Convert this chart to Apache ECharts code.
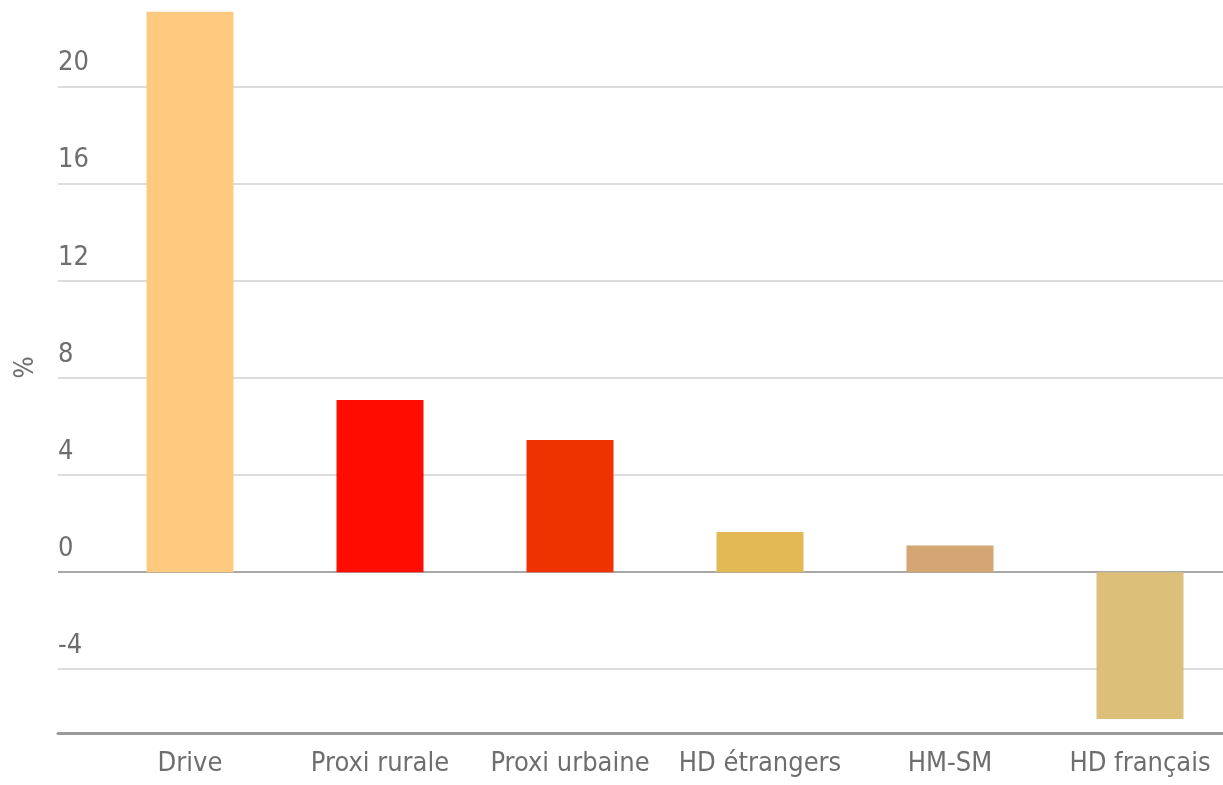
<!DOCTYPE html>
<html>
<head>
<meta charset="utf-8">
<script src="https://cdn.jsdelivr.net/npm/echarts@6/dist/echarts.min.js"></script>
<style>
  html, body { margin: 0; padding: 0; background: #fff; overflow: hidden; }
  #chart { width: 1235px; height: 785px; }
</style>
</head>
<body>
<div id="chart"></div>
<script>
var categories = ["Drive", "Proxi rurale", "Proxi urbaine", "HD étrangers", "HM-SM", "HD français"];
var values = [23.1, 7.1, 5.45, 1.65, 1.1, -6.05];
var barColors = ["#fdca80", "#ff0d00", "#ee3300", "#e2b954", "#d3a673", "#dcc07a"];
var yTicks = [-4, 0, 4, 8, 12, 16, 20];

var yMin = -6.63;
var yMax = 23.5;
var font = '"DejaVu Sans Condensed", "Liberation Sans Narrow", sans-serif';
var textColor = "#6e6e6e";

// zero line darker than the other grid lines
var lineColors = yTicks.map(function (t) {
  return t === 0 ? "#a8a8a8" : "#dcdcdc";
});

var myChart = echarts.init(document.getElementById("chart"));

var option = {
  animation: false,
  grid: [
    { left: 58, right: 12, top: 2, bottom: 52 },
    { left: 95, right: 0, top: 2, bottom: 52 }
  ],
  xAxis: [
    {
      gridIndex: 0,
      type: "category",
      data: categories,
      axisLine: { show: true, onZero: false, lineStyle: { color: "#9a9a9a", width: 3 } },
      axisTick: { show: false },
      axisLabel: { show: false },
      splitLine: { show: false }
    },
    {
      gridIndex: 1,
      type: "category",
      data: categories,
      axisLine: { show: false, onZero: false },
      axisTick: { show: false },
      axisLabel: {
        interval: 0,
        color: textColor,
        fontFamily: font,
        fontSize: 27,
        margin: 17
      }
    }
  ],
  yAxis: [
    {
      gridIndex: 0,
      type: "value",
      min: yMin,
      max: yMax,
      name: "%",
      nameLocation: "middle",
      nameGap: 19,
      nameRotate: 90,
      nameTextStyle: { color: textColor, fontFamily: font, fontSize: 26 },
      axisLine: { show: false },
      axisTick: { show: false, customValues: yTicks },
      axisLabel: {
        customValues: yTicks,
        inside: true,
        margin: 0,
        align: "left",
        verticalAlign: "bottom",
        padding: [0, 0, 10, 0],
        color: textColor,
        fontFamily: font,
        fontSize: 27
      },
      splitLine: {
        show: true,
        lineStyle: { color: lineColors, width: 2 }
      }
    },
    {
      gridIndex: 1,
      type: "value",
      min: yMin,
      max: yMax,
      show: false,
      splitLine: { show: false }
    }
  ],
  series: [
    {
      type: "bar",
      xAxisIndex: 1,
      yAxisIndex: 1,
      barWidth: 87,
      data: values.map(function (v, i) {
        return { value: v, itemStyle: { color: barColors[i] } };
      })
    }
  ]
};

myChart.setOption(option);
</script>
</body>
</html>
